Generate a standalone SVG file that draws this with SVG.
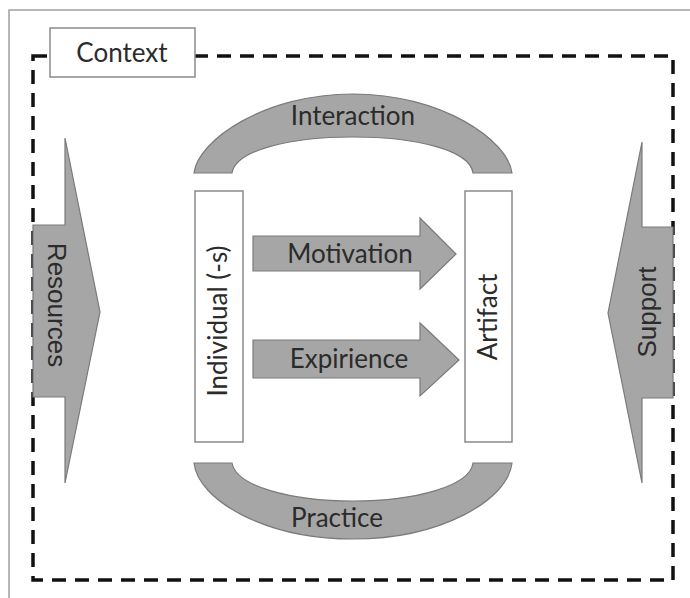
<svg xmlns="http://www.w3.org/2000/svg" width="690" height="598" viewBox="0 0 690 598">
<style>
.shape{fill:#a6a6a6;stroke:#7a7a7a;stroke-width:1.2}
.box{fill:#fff;stroke:#8a8a8a;stroke-width:1.5}
.lbl{font-family:Lato,"Open Sans",sans-serif;font-size:26px;fill:#2b2b2b;text-anchor:middle}
.alb{font-family:"Liberation Sans",Arial,sans-serif;font-size:26px;fill:#2b2b2b;text-anchor:middle}
</style>
<rect x="0" y="0" width="690" height="598" fill="#fff"/>
<rect x="9" y="10" width="700" height="600" fill="none" stroke="#a0a0a0" stroke-width="1.5"/>
<rect id="context-frame" x="33" y="56" width="640" height="524" fill="none" stroke="#111" stroke-width="3.5" stroke-dasharray="14 9"/>
<g id="context">
<rect class="box" x="50" y="28" width="145" height="49"/>
<text class="lbl" x="122" y="62">Context</text>
</g>
<g id="connectors">
<g id="interaction">
<path class="shape" d="M194,173 C198,140 265,94 353,94 C441,94 508,140 512,173 L473,173 C470,150 416,137 353,137 C290,137 236,150 232,173 Z"/>
<text class="lbl" x="353" y="125">Interaction</text>
</g>
<g id="practice">
<path class="shape" d="M194,463 C198,500 265,539 353,539 C441,539 508,500 512,463 L473,463 C470,486 416,501 353,501 C290,501 236,486 232,463 Z"/>
<text class="lbl" x="337" y="527">Practice</text>
</g>
<g id="motivation">
<path class="shape" d="M253,236 L420,236 L420,218 L456,254 L420,289 L420,271 L253,271 Z"/>
<text class="lbl" x="350" y="263">Motivation</text>
</g>
<g id="expirience">
<path class="shape" d="M253,340 L420,340 L420,323 L459,360 L420,396 L420,378 L253,378 Z"/>
<text class="lbl" x="349" y="368">Expirience</text>
</g>
<g id="resources">
<path class="shape" d="M33,225 L65,225 L65,138 L100,312 L65,483 L65,397 L33,397 Z"/>
<text class="alb" transform="translate(48,305) rotate(90)">Resources</text>
</g>
<g id="support">
<path class="shape" d="M673,227 L642,227 L642,142 L608,313 L642,483 L642,398 L673,398 Z"/>
<text class="alb" transform="translate(656,312) rotate(-90)">Support</text>
</g>
</g>
<g id="individual">
<rect class="box" x="195" y="191" width="48" height="251"/>
<text class="lbl" transform="translate(227,321) rotate(-90)">Individual (-s)</text>
</g>
<g id="artifact">
<rect class="box" x="465" y="191" width="47" height="251"/>
<text class="lbl" transform="translate(497,317) rotate(-90)">Artifact</text>
</g>
</svg>
